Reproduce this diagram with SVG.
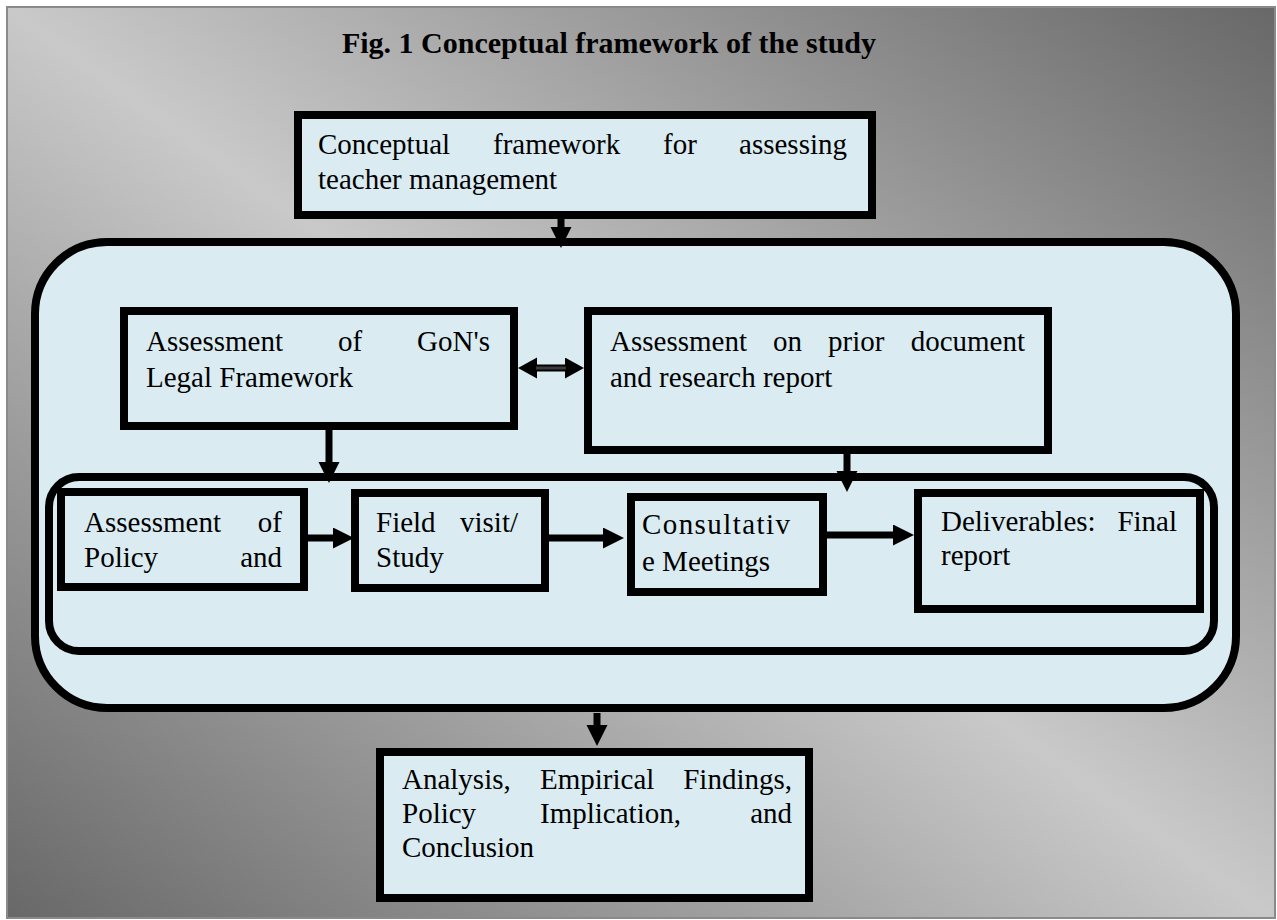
<svg xmlns="http://www.w3.org/2000/svg" width="1277" height="920" viewBox="0 0 1277 920">
<defs>
<linearGradient id="bg" x1="0" y1="1" x2="1" y2="0">
<stop offset="0" stop-color="#686868"/>
<stop offset="0.5" stop-color="#c9c9c9"/>
<stop offset="1" stop-color="#686868"/>
</linearGradient>
<marker id="ah" markerUnits="userSpaceOnUse" markerWidth="22" markerHeight="22" refX="0" refY="10.5" orient="auto">
<path d="M0,0 L21,10.5 L0,21 z" fill="#000"/>
</marker>
<marker id="ahd" markerUnits="userSpaceOnUse" markerWidth="22" markerHeight="22" refX="0" refY="10.5" orient="auto-start-reverse">
<path d="M0,0 L19,10.5 L0,21 z" fill="#000"/>
</marker>
</defs>
<style>
.box{fill:#daecf2;stroke:#000;stroke-width:8}
.t{font-family:"Liberation Serif","Times New Roman",serif;font-size:29px;fill:#000}
.title{font-family:"Liberation Serif","Times New Roman",serif;font-size:30px;font-weight:bold;fill:#000}
.e{text-anchor:end}
.c{stroke:#000;stroke-width:7;fill:none}
</style>
<rect x="7" y="7" width="1268" height="911" fill="url(#bg)" stroke="#8a8a8a" stroke-width="2"/>
<text class="title" x="609" y="53" text-anchor="middle">Fig. 1 Conceptual framework of the study</text>

<g id="n-container">
<rect class="box" x="35" y="242" width="1201" height="466" rx="72" ry="72"/>
</g>
<g id="n-process">
<rect class="box" x="49" y="477" width="1165" height="174" rx="30" ry="30"/>
</g>

<g id="n-top">
<rect class="box" x="298" y="115" width="574" height="100"/>
<text class="t" y="154"><tspan x="318">Conceptual</tspan><tspan x="493">framework</tspan><tspan x="663">for</tspan></text>
<text class="t e" x="847" y="154">assessing</text>
<text class="t" x="318" y="189">teacher management</text>
</g>

<g id="n-gon">
<rect class="box" x="124" y="311" width="390" height="115"/>
<text class="t" y="351"><tspan x="146">Assessment</tspan><tspan x="338">of</tspan></text>
<text class="t e" x="490" y="351">GoN's</text>
<text class="t" x="146" y="387">Legal Framework</text>
</g>

<g id="n-prior">
<rect class="box" x="588" y="311" width="460" height="139"/>
<text class="t" y="351"><tspan x="610">Assessment</tspan><tspan x="773">on</tspan><tspan x="828">prior</tspan></text>
<text class="t e" x="1025" y="351">document</text>
<text class="t" x="610" y="387">and research report</text>
</g>

<g id="n-policy">
<rect class="box" x="61" y="492" width="243" height="95"/>
<text class="t" x="84" y="532">Assessment</text>
<text class="t e" x="282" y="532">of</text>
<text class="t" x="84" y="567">Policy</text>
<text class="t e" x="282" y="567">and</text>
</g>

<g id="n-field">
<rect class="box" x="355" y="493" width="190" height="95"/>
<text class="t" x="376" y="532">Field</text>
<text class="t e" x="518" y="532">visit/</text>
<text class="t" x="376" y="567">Study</text>
</g>

<g id="n-consult">
<rect class="box" x="631" y="497" width="192" height="95"/>
<text class="t" x="642" y="534" textLength="148" lengthAdjust="spacing">Consultativ</text>
<text class="t" x="642" y="571">e Meetings</text>
</g>

<g id="n-deliver">
<rect class="box" x="918" y="493" width="282" height="116"/>
<text class="t" x="941" y="531">Deliverables:</text>
<text class="t e" x="1177" y="531">Final</text>
<text class="t" x="941" y="565">report</text>
</g>

<g id="n-analysis">
<rect class="box" x="380" y="752" width="429" height="146"/>
<text class="t" y="789"><tspan x="402">Analysis,</tspan><tspan x="540">Empirical</tspan></text>
<text class="t e" x="792" y="789">Findings,</text>
<text class="t" y="823"><tspan x="402">Policy</tspan><tspan x="540">Implication,</tspan></text>
<text class="t e" x="792" y="823">and</text>
<text class="t" x="402" y="857">Conclusion</text>
</g>

<g id="connectors">
<path class="c" d="M561,219 V227" marker-end="url(#ah)"/>
<path class="c" d="M537,368 H565" marker-start="url(#ahd)" marker-end="url(#ahd)"/>
<path d="M536,368 H566" stroke="#3a3a3a" stroke-width="3" fill="none"/>
<path class="c" d="M329,430 V462" marker-end="url(#ah)"/>
<path class="c" d="M847,454 V471" marker-end="url(#ah)"/>
<path class="c" d="M308,538 H333" marker-end="url(#ah)"/>
<path class="c" d="M549,538 H603" marker-end="url(#ah)"/>
<path class="c" d="M827,535 H893" marker-end="url(#ah)"/>
<path class="c" d="M597,713 V725" marker-end="url(#ah)"/>
</g>
</svg>
